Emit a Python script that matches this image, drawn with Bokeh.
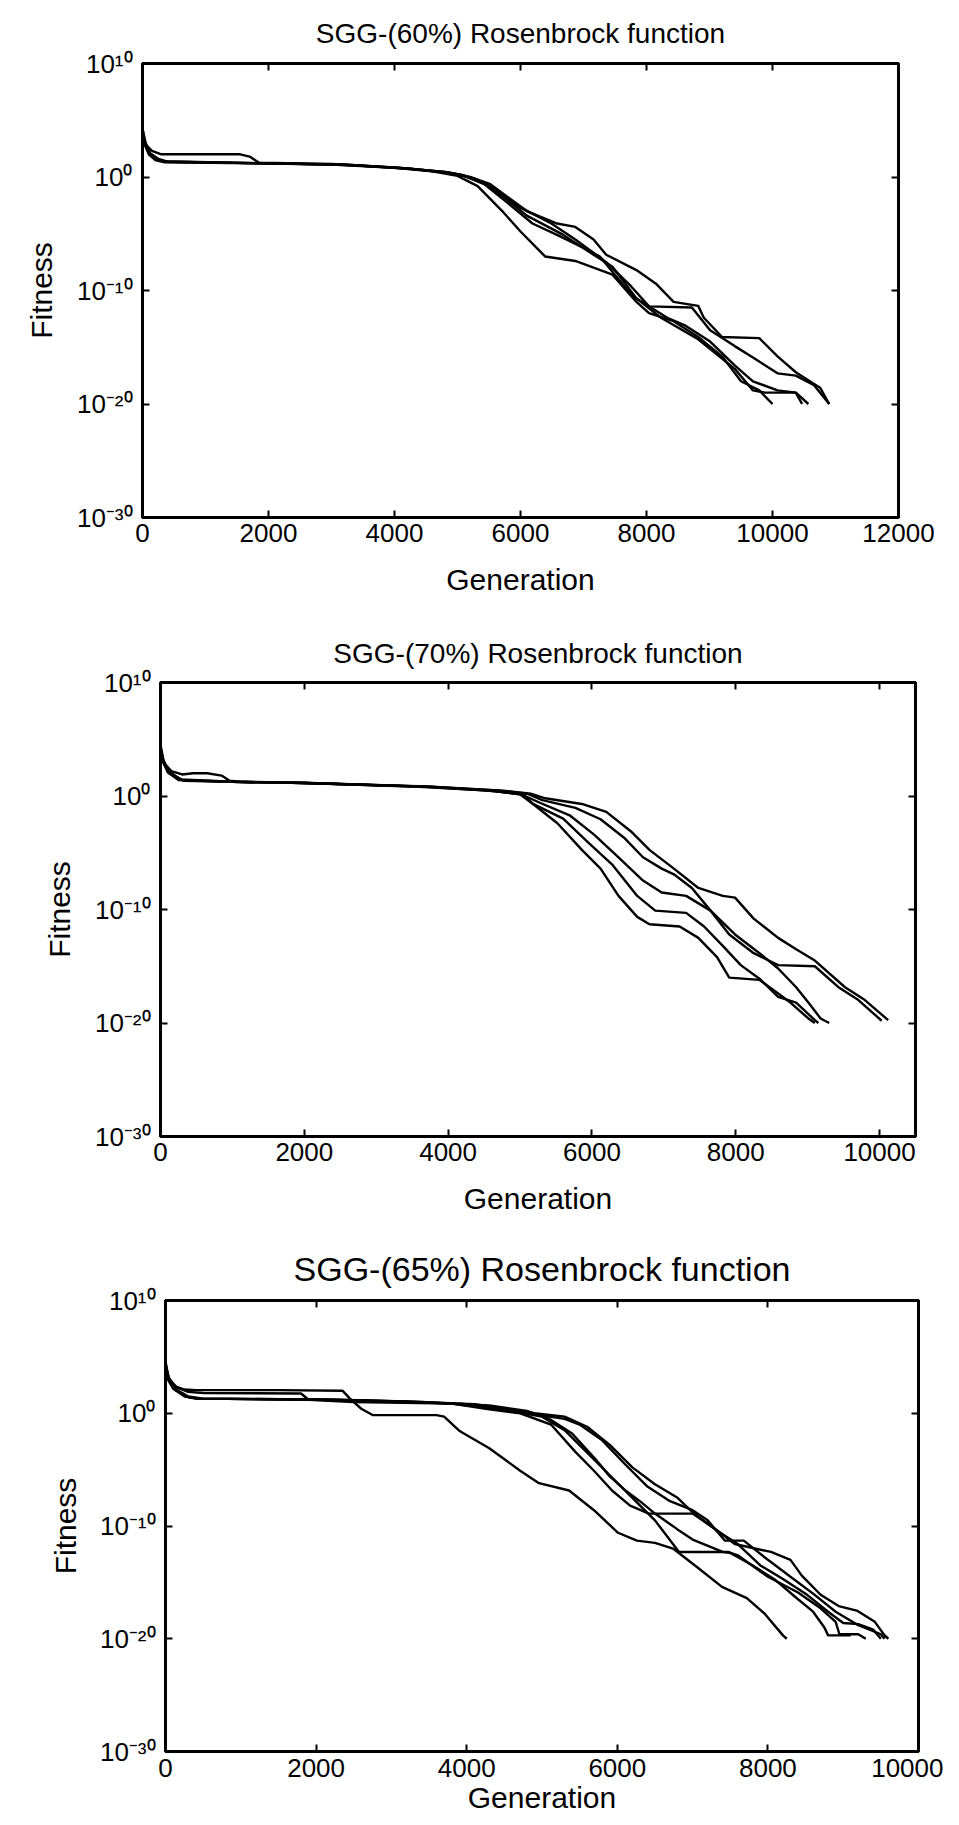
from bokeh.plotting import figure
from bokeh.models import Range1d, FixedTicker, LinearAxis, LogAxis, CustomJSTickFormatter, Title
from bokeh.embed import file_html
from bokeh.resources import INLINE
import numpy as np

# ---------------- data (generation, log10 fitness) ----------------
titles = ["SGG-(60%) Rosenbrock function",
          "SGG-(70%) Rosenbrock function",
          "SGG-(65%) Rosenbrock function"]
x_label = "Generation"
y_label = "Fitness"
x_max = [12000, 10500, 10000]
x_ticks = [[0, 2000, 4000, 6000, 8000, 10000, 12000],
           [0, 2000, 4000, 6000, 8000, 10000],
           [0, 2000, 4000, 6000, 8000, 10000]]
y_ticks = [1e10, 1e0, 1e-10, 1e-20, 1e-30]

# panel 1: SGG-(60%)
p1_gen = [
    [0, 40, 100, 200, 350, 1800, 3000, 4000, 4600, 5000, 5320, 5710, 6000, 6390, 6870, 7460, 7840, 8040, 8430, 8820, 9200, 9500, 9790, 10000],
    [0, 60, 150, 300, 1550, 1700, 1850, 3000, 4000, 4800, 5100, 5420, 5800, 6190, 6580, 6970, 7260, 7750, 8230, 8820, 9400, 9690, 9880, 10370, 10470],
    [0, 50, 120, 250, 400, 2000, 3200, 4200, 4900, 5200, 5510, 6100, 6580, 6870, 7160, 7360, 7840, 8150, 8430, 8820, 8910, 9200, 9790, 10080, 10370, 10760, 10900],
    [0, 30, 90, 180, 300, 1900, 3100, 4100, 4800, 5100, 5420, 6000, 6490, 6870, 7360, 7750, 8040, 8720, 9010, 9400, 9690, 10080, 10370, 10660, 10900],
    [0, 40, 110, 220, 350, 2100, 3300, 4300, 4950, 5250, 5510, 6100, 6680, 7160, 7460, 7840, 8330, 8620, 9010, 9400, 9690, 10080, 10370, 10570],
]
p1_log10_fit = [
    [4.0, 2.8, 2.0, 1.5, 1.3, 1.2, 1.1, 0.8, 0.5, 0.1, -0.8, -3.0, -4.8, -7.0, -7.4, -8.6, -11.0, -12.0, -12.7, -14.1, -15.8, -18.0, -18.8, -20.0],
    [3.6, 2.8, 2.3, 2.0, 2.0, 1.8, 1.25, 1.15, 0.85, 0.45, 0.15, -0.6, -2.3, -4.1, -5.1, -6.15, -7.0, -10.3, -12.4, -14.3, -16.9, -18.8, -19.0, -19.0, -20.0],
    [4.3, 3.0, 2.1, 1.6, 1.35, 1.2, 1.1, 0.75, 0.35, 0.0, -0.6, -3.0, -4.1, -4.4, -5.5, -6.85, -8.2, -9.4, -11.0, -11.35, -12.4, -14.1, -14.2, -15.8, -17.2, -18.6, -20.0],
    [3.8, 3.0, 2.2, 1.7, 1.4, 1.2, 1.1, 0.8, 0.45, 0.1, -0.6, -2.7, -4.1, -5.5, -7.5, -9.6, -11.4, -11.5, -13.5, -14.9, -15.9, -17.3, -17.5, -18.35, -20.0],
    [4.1, 2.9, 2.0, 1.6, 1.35, 1.2, 1.05, 0.7, 0.3, -0.1, -0.76, -3.4, -5.1, -6.85, -7.9, -10.7, -12.4, -13.1, -14.5, -16.6, -18.0, -18.8, -19.0, -20.0],
]

# panel 2: SGG-(70%)
p2_gen = [
    [0, 40, 120, 320, 1000, 2000, 3700, 4600, 5000, 5180, 5520, 5860, 6120, 6370, 6630, 6800, 7220, 7480, 7740, 7910, 8330, 8590, 8760, 9010, 9100],
    [0, 50, 150, 300, 450, 650, 850, 960, 1100, 2100, 3800, 4650, 5050, 5180, 5600, 5950, 6290, 6630, 6880, 7310, 7560, 7820, 8070, 8330, 8590, 8840, 9100, 9150],
    [0, 30, 100, 250, 1000, 2000, 3600, 4500, 5000, 5260, 5690, 6030, 6370, 6710, 6970, 7310, 7650, 7990, 8330, 8590, 8840, 9010, 9180, 9300],
    [0, 50, 130, 300, 1000, 2000, 3700, 4700, 5100, 5310, 5770, 6120, 6460, 6710, 6970, 7140, 7390, 7650, 7910, 8250, 8590, 9100, 9440, 9690, 10030],
    [0, 40, 110, 280, 1000, 2000, 3800, 4800, 5150, 5350, 5860, 6200, 6540, 6800, 7140, 7480, 7820, 7990, 8250, 8590, 8840, 9100, 9520, 9780, 10120],
]
p2_log10_fit = [
    [4.3, 3.0, 2.0, 1.35, 1.25, 1.15, 0.8, 0.45, 0.15, -0.7, -2.4, -4.75, -6.4, -8.8, -10.65, -11.3, -11.5, -12.5, -14.2, -16.0, -16.2, -17.4, -18.2, -19.6, -20.0],
    [4.0, 2.9, 2.2, 1.9, 2.0, 2.0, 1.8, 1.35, 1.25, 1.15, 0.8, 0.45, 0.1, -0.7, -2.0, -4.1, -6.1, -8.8, -10.1, -10.3, -11.5, -13.2, -14.9, -16.1, -17.7, -18.2, -19.75, -20.0],
    [4.1, 3.1, 2.1, 1.4, 1.25, 1.15, 0.82, 0.5, 0.2, -0.55, -1.7, -3.4, -5.4, -7.45, -8.5, -8.8, -10.1, -12.2, -13.85, -15.2, -16.85, -18.2, -19.6, -20.0],
    [3.8, 2.8, 2.0, 1.4, 1.25, 1.15, 0.85, 0.5, 0.2, -0.37, -1.05, -2.05, -3.75, -5.4, -6.4, -6.9, -8.1, -10.1, -12.2, -13.85, -14.9, -15.0, -16.9, -17.9, -19.8],
    [4.5, 3.2, 2.2, 1.45, 1.25, 1.15, 0.8, 0.45, 0.2, -0.2, -0.7, -1.4, -3.1, -4.75, -6.4, -8.1, -8.8, -8.95, -10.8, -12.5, -13.5, -14.5, -16.85, -17.9, -19.75],
]

# panel 3: SGG-(65%)
p3_gen = [
    [0, 40, 120, 250, 400, 1500, 2350, 2450, 2600, 2750, 3600, 3700, 3900, 4300, 4710, 4960, 5360, 5690, 6010, 6260, 6500, 6740, 7070, 7390, 7720, 7960, 8200, 8250],
    [0, 50, 150, 300, 500, 1800, 1900, 2500, 3800, 4300, 4710, 5120, 5440, 5690, 5930, 6170, 6420, 7000, 7310, 7560, 8040, 8300, 8450, 8700, 8940, 9180, 9420, 9550, 9600],
    [0, 30, 100, 250, 400, 2000, 3000, 3800, 4500, 5000, 5300, 5600, 5900, 6200, 6500, 6820, 7470, 7600, 8000, 8400, 8700, 8900, 8950, 9200, 9300],
    [0, 40, 120, 280, 450, 2100, 3100, 4000, 4900, 5300, 5500, 5800, 6100, 6400, 6700, 7000, 7200, 7430, 7680, 8000, 8300, 8600, 8900, 9200, 9500, 9550],
    [0, 30, 110, 260, 420, 2200, 3200, 4100, 4900, 5300, 5600, 5900, 6200, 6500, 6800, 7000, 7300, 7600, 7900, 8200, 8500, 8800, 9000, 9200, 9400, 9500],
    [0, 50, 140, 300, 500, 2300, 3400, 4300, 4800, 5100, 5400, 5700, 5900, 6100, 6300, 6500, 6800, 7000, 7400, 7500, 7800, 8100, 8400, 8600, 8750, 8800, 9100],
]
p3_log10_fit = [
    [4.6, 3.2, 2.4, 2.1, 2.05, 2.05, 2.0, 1.3, 0.4, -0.15, -0.17, -0.3, -1.55, -3.1, -5.1, -6.2, -6.85, -8.6, -10.6, -11.3, -11.5, -12.0, -13.7, -15.4, -16.4, -17.8, -19.7, -20.0],
    [4.2, 3.0, 2.3, 1.9, 1.8, 1.75, 1.2, 1.0, 0.85, 0.34, 0.0, -1.0, -3.4, -5.1, -6.85, -8.2, -8.9, -8.9, -10.3, -11.6, -12.3, -13.0, -14.4, -16.1, -17.1, -17.5, -18.5, -19.7, -20.0],
    [4.0, 3.0, 2.2, 1.5, 1.3, 1.2, 1.05, 0.85, 0.3, -0.3, -1.5, -3.5, -5.5, -7.5, -9.5, -12.3, -12.3, -12.6, -14.5, -15.9, -17.3, -18.5, -19.6, -19.6, -20.0],
    [4.4, 3.1, 2.1, 1.45, 1.3, 1.2, 1.05, 0.8, -0.1, -0.5, -1.0, -2.4, -4.5, -6.5, -7.8, -8.6, -9.5, -11.3, -11.3, -13.0, -14.5, -16.0, -17.6, -18.8, -19.6, -20.0],
    [4.5, 3.2, 2.2, 1.5, 1.3, 1.2, 1.05, 0.8, 0.0, -0.3, -1.2, -2.8, -4.8, -6.3, -7.5, -8.8, -10.3, -11.6, -13.5, -14.7, -16.0, -17.6, -18.6, -18.7, -19.2, -20.0],
    [3.9, 2.9, 2.1, 1.5, 1.3, 1.2, 1.0, 0.7, 0.2, -0.5, -1.8, -4.0, -5.6, -6.8, -7.8, -8.9, -10.3, -11.2, -12.3, -12.4, -13.5, -14.8, -16.5, -17.6, -19.0, -19.7, -19.7],
]

# ---------------- styling / layout ----------------
FONT = "Liberation Sans"
sup_js = """
const e = Math.round(Math.log10(tick));
const m = {'0':'\u2070','1':'\u00b9','2':'\u00b2','3':'\u00b3','4':'\u2074','5':'\u2075','6':'\u2076','7':'\u2077','8':'\u2078','9':'\u2079','-':'\u207b'};
return '10' + String(e).split('').map(c => m[c]).join('');
"""
blank_js = "return '';"

layout_specs = [
    dict(fw=756, fh=454, left=142, right=45, top=63, bottom=97, tsize="28px",
         tstand=30, xls=6, xas=18, ystand=32),
    dict(fw=755, fh=454, left=160, right=28, top=68, bottom=97, tsize="28px",
         tstand=27, xls=6, xas=18, ystand=31),
    dict(fw=753, fh=451, left=165, right=25, top=67, bottom=74, tsize="34px",
         tstand=25, xls=7, xas=1, ystand=30),
]


def make_panel(i, gens, logs):
    s = layout_specs[i]
    p = figure(frame_width=s["fw"], frame_height=s["fh"],
               min_border_left=s["left"], min_border_right=s["right"],
               min_border_top=s["top"], min_border_bottom=s["bottom"],
               y_axis_type="log",
               x_range=Range1d(0, x_max[i]), y_range=Range1d(1e-30, 1e10),
               output_backend="svg", toolbar_location=None,
               title=titles[i])
    p.title.align = "center"
    p.title.text_font = FONT
    p.title.text_font_size = s["tsize"]
    p.title.text_font_style = "normal"
    p.title.text_color = "black"
    p.title.standoff = s["tstand"]
    p.grid.visible = False
    p.outline_line_color = "black"
    p.outline_line_width = 3
    p.background_fill_color = "white"
    p.border_fill_color = "white"

    for ax in (p.xaxis[0], p.yaxis[0]):
        ax.axis_line_width = 3
        ax.axis_line_color = "black"
        ax.major_tick_in = 7
        ax.major_tick_out = 0
        ax.major_tick_line_width = 2
        ax.minor_tick_line_color = None
        ax.major_label_text_font = FONT
        ax.major_label_text_font_size = "26px"
        ax.major_label_text_color = "black"
        ax.axis_label_text_font = FONT
        ax.axis_label_text_font_size = "30px"
        ax.axis_label_text_font_style = "normal"
        ax.axis_label_text_color = "black"

    p.xaxis[0].ticker = FixedTicker(ticks=x_ticks[i])
    p.xaxis[0].axis_label = x_label
    p.xaxis[0].major_label_standoff = s["xls"]
    p.xaxis[0].axis_label_standoff = s["xas"]
    p.yaxis[0].ticker = FixedTicker(ticks=y_ticks)
    p.yaxis[0].formatter = CustomJSTickFormatter(code=sup_js)
    p.yaxis[0].major_label_standoff = 10

    # y-axis title placed as a side title, left of the tick labels
    ytitle = Title(text=y_label, align="center", text_font=FONT, text_font_size="30px",
                   text_font_style="normal", text_color="black", standoff=s["ystand"])
    p.add_layout(ytitle, "left")

    top = LinearAxis(ticker=FixedTicker(ticks=x_ticks[i]),
                     formatter=CustomJSTickFormatter(code=blank_js))
    right = LogAxis(ticker=FixedTicker(ticks=y_ticks),
                    formatter=CustomJSTickFormatter(code=blank_js))
    for ax in (top, right):
        ax.axis_line_width = 3
        ax.major_tick_in = 7
        ax.major_tick_out = 0
        ax.major_tick_line_width = 2
        ax.minor_tick_line_color = None
        ax.major_label_standoff = 0
        ax.major_label_text_font_size = "1px"
    p.add_layout(top, "above")
    p.add_layout(right, "right")

    for g, lg in zip(gens, logs):
        p.line(np.array(g, dtype=float), 10.0 ** np.array(lg, dtype=float),
               line_color="black", line_width=2.4)
    return p


p1 = make_panel(0, p1_gen, p1_log10_fit)
p2 = make_panel(1, p2_gen, p2_log10_fit)
p3 = make_panel(2, p3_gen, p3_log10_fit)

# three independent roots, stacked on the page (keeps each panel's own frame position)
open("out.html", "w").write(file_html([p1, p2, p3], INLINE))
